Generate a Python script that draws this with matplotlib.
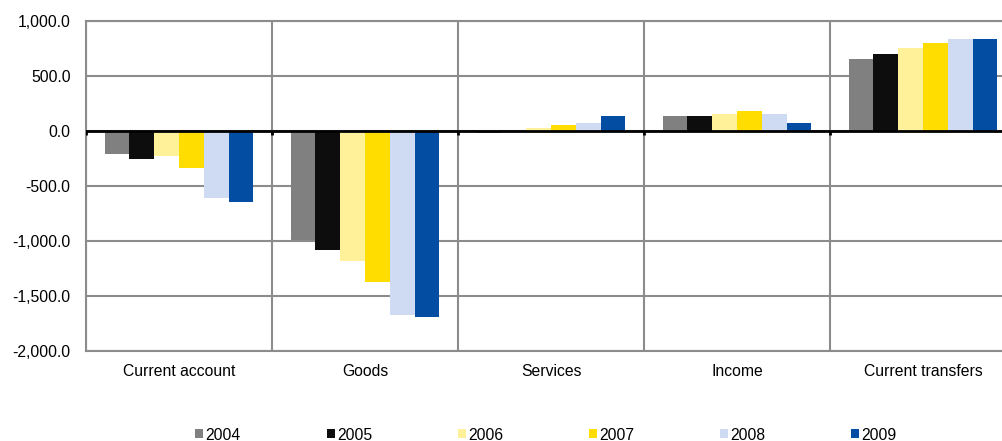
import matplotlib
matplotlib.use("Agg")
import matplotlib.pyplot as plt
import numpy as np
from matplotlib.ticker import FuncFormatter

plt.rcParams['font.family'] = ['Liberation Sans', 'DejaVu Sans']

categories = ["Current account", "Goods", "Services", "Income", "Current transfers"]
years = ["2004", "2005", "2006", "2007", "2008", "2009"]
colors = ["#808080", "#0d0d0d", "#FFF09A", "#FFDD00", "#CFDBF2", "#034EA2"]

values = {
    "2004": [-212, -987, -15, 134, 652],
    "2005": [-251, -1078, -2, 140, 700],
    "2006": [-227, -1179, 27, 158, 758],
    "2007": [-336, -1373, 52, 185, 797],
    "2008": [-605, -1669, 70, 152, 836],
    "2009": [-648, -1694, 134, 73, 833],
}
yticks = [-2000, -1500, -1000, -500, 0, 500, 1000]

fs = 11.3
fig = plt.figure(figsize=(10.03, 4.41), dpi=100)
ax = fig.add_axes([86/1003, 90/441, 930/1003, 330/441])

n = len(years)
x = np.arange(len(categories))
bw = 0.8 / n
for i, y in enumerate(years):
    ax.bar(x - 0.4 + bw*(i+0.5), values[y], width=bw, color=colors[i],
           label=y, zorder=3, linewidth=0)

ax.set_xlim(-0.5, len(categories) - 0.5)
ax.set_ylim(-2000, 1000)
ax.set_yticks(yticks)
ax.yaxis.set_major_formatter(FuncFormatter(lambda v, p: f"{v:,.1f}"))
ax.set_xticks(x)
ax.set_xticklabels(categories)
ax.tick_params(axis='both', length=0, labelsize=fs, colors='black')
ax.tick_params(axis='y', pad=11)
ax.tick_params(axis='x', pad=9)

ax.grid(axis='y', color='#8c8c8c', linewidth=1.5, zorder=1)
for b in np.arange(len(categories) + 1) - 0.5:
    ax.axvline(b, color='#8c8c8c', linewidth=1.5, zorder=1)
for s in ax.spines.values():
    s.set_color('#8c8c8c')
    s.set_linewidth(1.5)

ax.axhline(0, color='black', linewidth=2, zorder=4)
bounds = np.arange(len(categories) + 1) - 0.5
ax.vlines(bounds, -40, 0, color='black', linewidth=2, zorder=4)

fig.legend(loc='center', bbox_to_anchor=(546/1003, 1 - 435/441), ncol=6,
           frameon=False, fontsize=fs, handlelength=0.51, handleheight=0.51,
           handletextpad=0.13, columnspacing=5.48)

fig.savefig("out.png", dpi=100)
